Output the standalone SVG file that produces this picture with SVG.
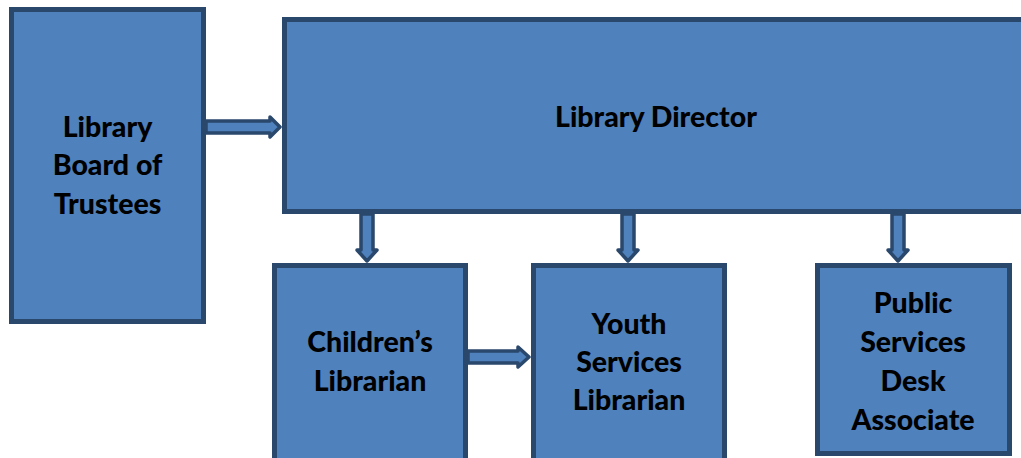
<svg xmlns="http://www.w3.org/2000/svg" width="1021" height="458" viewBox="0 0 1021 458">
  <style>
    .box { fill: #4f81bd; stroke: #2a476c; stroke-width: 5; }
    .lbl { font-family: Lato, "Liberation Sans", sans-serif; font-weight: 900; font-size: 28.5px; fill: #000; text-anchor: middle; }
    .arrow { fill: #4f81bd; stroke: #2a476c; stroke-width: 3.5; stroke-linejoin: round; }
  </style>
  <rect width="1021" height="458" fill="#fff"/>

  <g id="connectors">
    <!-- Board of Trustees to Director -->
    <path class="arrow" d="M206 121 H270 V117 L280 127 L270 137 V133 H206 Z"/>
    <!-- Director to the three librarian roles -->
    <path class="arrow" d="M361 214 V250 H357 L367 261 L377 250 H373 V214 Z"/>
    <path class="arrow" d="M622 214 V250 H618 L628 261 L638 250 H634 V214 Z"/>
    <path class="arrow" d="M892 214 V250 H888 L898 261 L908 250 H904 V214 Z"/>
    <!-- Children's to Youth Services -->
    <path class="arrow" d="M468 351 H518 V347 L529 357 L518 367 V363 H468 Z"/>
  </g>

  <g id="board">
    <rect class="box" x="11.5" y="9.5" width="192" height="312"/>
    <text class="lbl" x="107.5" y="137">Library</text>
    <text class="lbl" x="107.5" y="175">Board of</text>
    <text class="lbl" x="107.5" y="214">Trustees</text>
  </g>

  <g id="director">
    <rect class="box" x="284.5" y="19.5" width="745" height="192"/>
    <text class="lbl" x="656" y="127">Library Director</text>
  </g>

  <g id="childrens">
    <rect class="box" x="274.5" y="265.5" width="191" height="200"/>
    <text class="lbl" x="370" y="352">Children’s</text>
    <text class="lbl" x="370" y="391">Librarian</text>
  </g>

  <g id="youth">
    <rect class="box" x="533.5" y="265.5" width="191" height="200"/>
    <text class="lbl" x="629" y="334">Youth</text>
    <text class="lbl" x="629" y="372">Services</text>
    <text class="lbl" x="629" y="410">Librarian</text>
  </g>

  <g id="public">
    <rect class="box" x="817.5" y="265.5" width="192" height="188"/>
    <text class="lbl" x="913" y="313">Public</text>
    <text class="lbl" x="913" y="352">Services</text>
    <text class="lbl" x="913" y="391">Desk</text>
    <text class="lbl" x="913" y="430">Associate</text>
  </g>
</svg>
